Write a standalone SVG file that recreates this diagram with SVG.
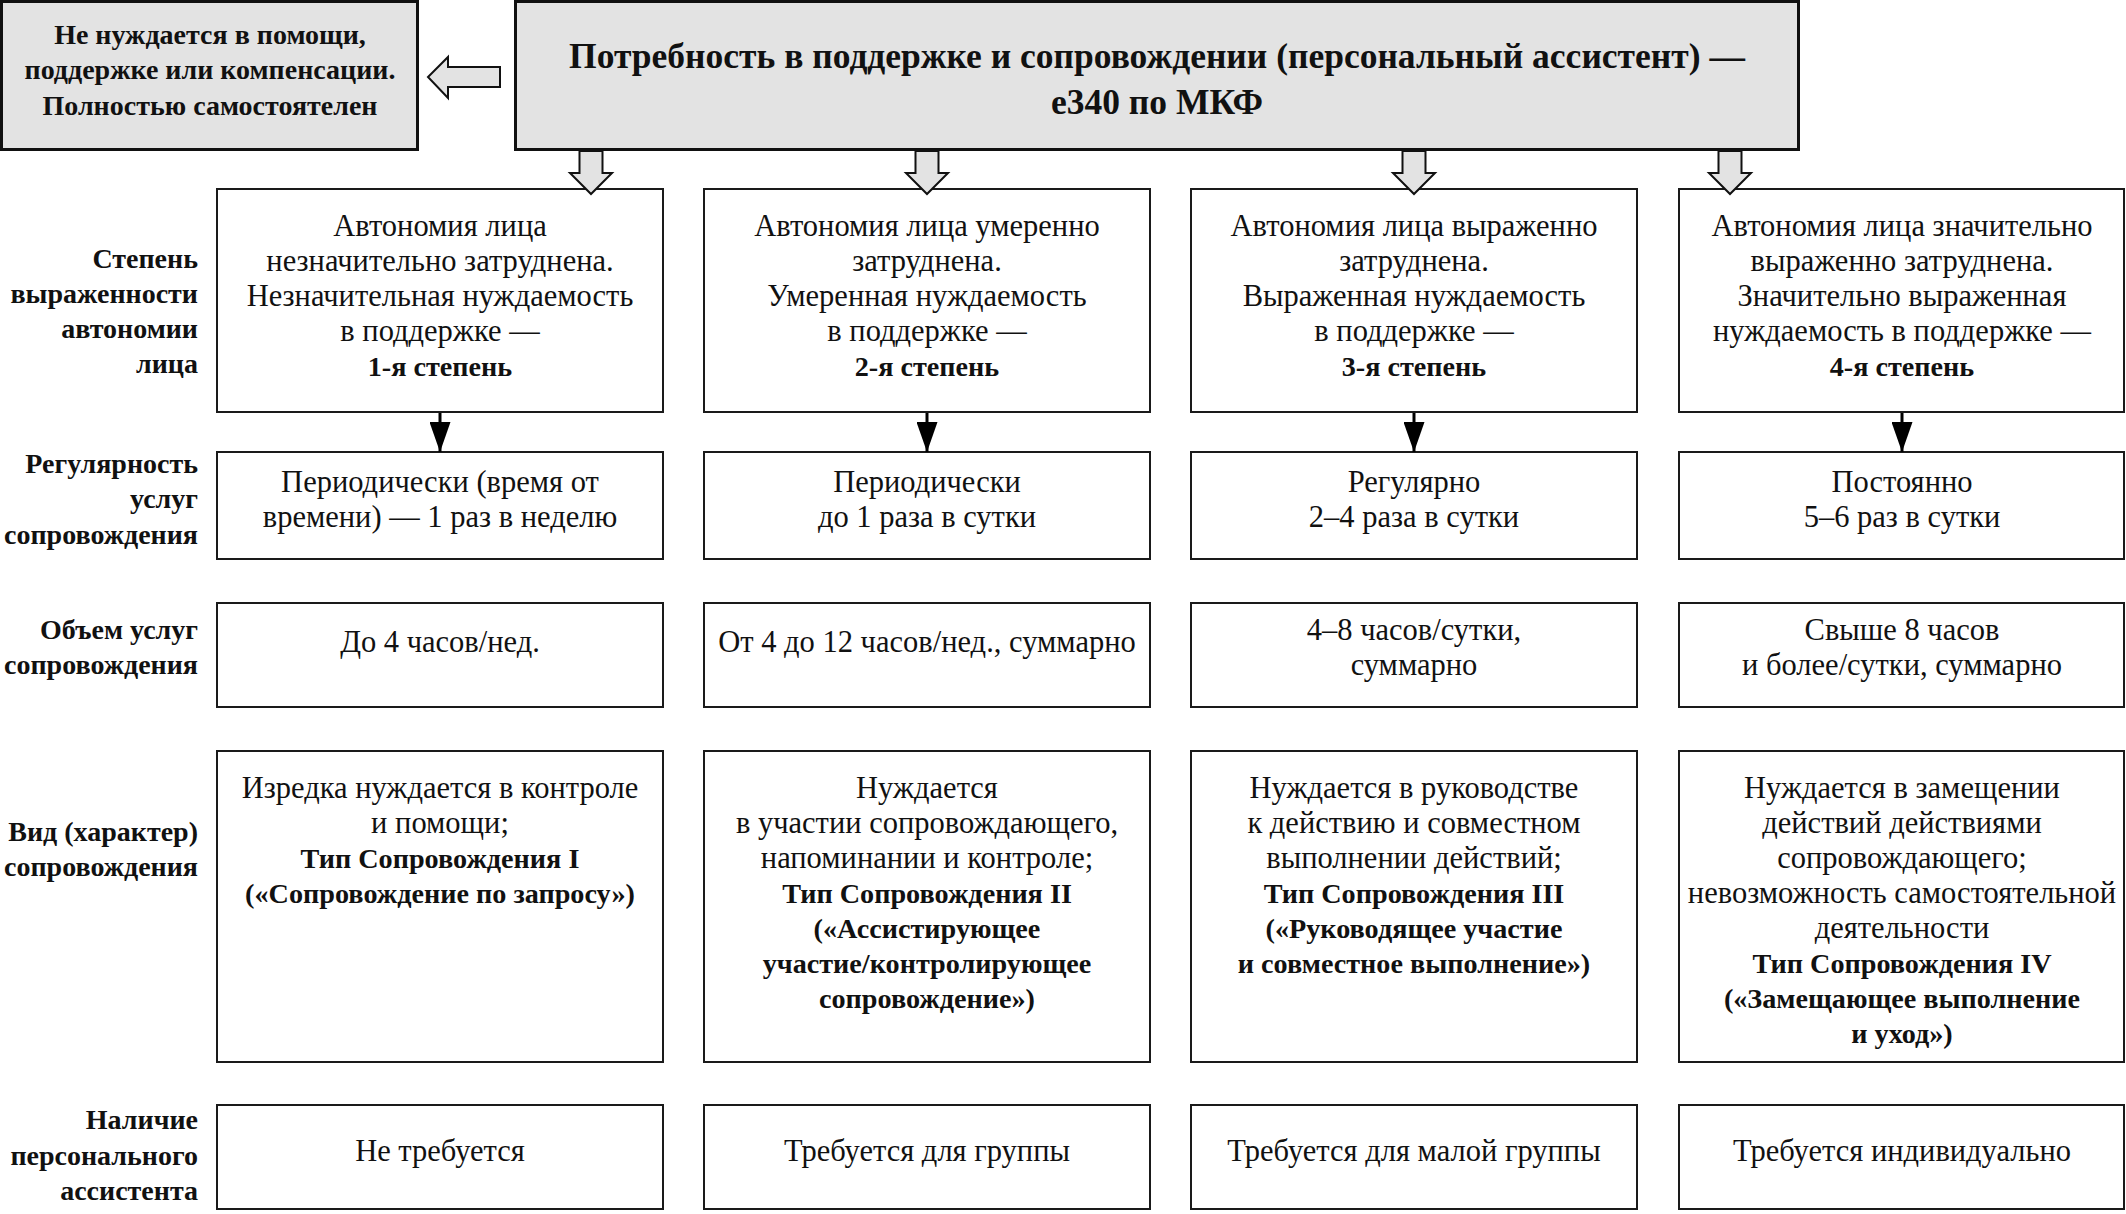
<svg xmlns="http://www.w3.org/2000/svg" width="2126" height="1214" viewBox="0 0 2126 1214">
<style>
.box{fill:#ffffff;stroke:#1a1a1a;stroke-width:2}
.gbox{fill:#e3e3e3;stroke:#111111;stroke-width:3}
.harr{fill:#e3e3e3;stroke:#111111;stroke-width:2;stroke-linejoin:miter}
.conn{stroke:#000000;stroke-width:3;fill:none}
text{font-family:"Liberation Serif","Times New Roman",serif;fill:#111111}
.t{font-size:30.5px;text-anchor:middle}
.b{font-weight:bold;font-size:28.2px}
.lab{font-size:28px;font-weight:bold;text-anchor:end}
.title{font-size:35.5px;font-weight:bold;text-anchor:middle}
.ltitle{font-size:28px;font-weight:bold;text-anchor:middle}
</style>
<defs>
<marker id="ah" viewBox="0 0 30 21" refX="30" refY="10.5" markerUnits="userSpaceOnUse" markerWidth="30" markerHeight="21" orient="auto">
<path d="M0,0 L30,10.5 L0,21 z" fill="#000000"/>
</marker>
</defs>
<rect x="0" y="0" width="2126" height="1214" fill="#ffffff"/>

<g id="labels">
<text class="lab" x="198" y="268">Степень</text>
<text class="lab" x="198" y="303">выраженности</text>
<text class="lab" x="198" y="338">автономии</text>
<text class="lab" x="198" y="373">лица</text>
<text class="lab" x="198" y="473">Регулярность</text>
<text class="lab" x="198" y="508">услуг</text>
<text class="lab" x="198" y="544">сопровождения</text>
<text class="lab" x="198" y="639">Объем услуг</text>
<text class="lab" x="198" y="674">сопровождения</text>
<text class="lab" x="198" y="841">Вид (характер)</text>
<text class="lab" x="198" y="876">сопровождения</text>
<text class="lab" x="198" y="1129">Наличие</text>
<text class="lab" x="198" y="1165">персонального</text>
<text class="lab" x="198" y="1200">ассистента</text>
</g>

<g id="independent">
<rect class="gbox" x="1.5" y="1.5" width="416" height="148"/>
<text class="ltitle" x="210" y="44">Не нуждается в помощи,</text>
<text class="ltitle" x="210" y="79">поддержке или компенсации.</text>
<text class="ltitle" x="210" y="115">Полностью самостоятелен</text>
</g>

<g id="main">
<rect class="gbox" x="515.5" y="1.5" width="1283" height="148"/>
<text class="title" x="1157" y="68">Потребность в поддержке и сопровождении (персональный ассистент) —</text>
<text class="title" x="1157" y="114">е340 по МКФ</text>
</g>

<g id="deg1">
<rect class="box" x="217" y="189" width="446" height="223"/>
<text class="t" x="440" y="236">Автономия лица</text>
<text class="t" x="440" y="271">незначительно затруднена.</text>
<text class="t" x="440" y="306">Незначительная нуждаемость</text>
<text class="t" x="440" y="341">в поддержке —</text>
<text class="t b" x="440" y="376">1-я степень</text>
</g>
<g id="deg2">
<rect class="box" x="704" y="189" width="446" height="223"/>
<text class="t" x="927" y="236">Автономия лица умеренно</text>
<text class="t" x="927" y="271">затруднена.</text>
<text class="t" x="927" y="306">Умеренная нуждаемость</text>
<text class="t" x="927" y="341">в поддержке —</text>
<text class="t b" x="927" y="376">2-я степень</text>
</g>
<g id="deg3">
<rect class="box" x="1191" y="189" width="446" height="223"/>
<text class="t" x="1414" y="236">Автономия лица выраженно</text>
<text class="t" x="1414" y="271">затруднена.</text>
<text class="t" x="1414" y="306">Выраженная нуждаемость</text>
<text class="t" x="1414" y="341">в поддержке —</text>
<text class="t b" x="1414" y="376">3-я степень</text>
</g>
<g id="deg4">
<rect class="box" x="1679" y="189" width="445" height="223"/>
<text class="t" x="1902" y="236">Автономия лица значительно</text>
<text class="t" x="1902" y="271">выраженно затруднена.</text>
<text class="t" x="1902" y="306">Значительно выраженная</text>
<text class="t" x="1902" y="341">нуждаемость в поддержке —</text>
<text class="t b" x="1902" y="376">4-я степень</text>
</g>

<g id="reg1">
<rect class="box" x="217" y="452" width="446" height="107"/>
<text class="t" x="440" y="492">Периодически (время от</text>
<text class="t" x="440" y="527">времени) — 1 раз в неделю</text>
</g>
<g id="reg2">
<rect class="box" x="704" y="452" width="446" height="107"/>
<text class="t" x="927" y="492">Периодически</text>
<text class="t" x="927" y="527">до 1 раза в сутки</text>
</g>
<g id="reg3">
<rect class="box" x="1191" y="452" width="446" height="107"/>
<text class="t" x="1414" y="492">Регулярно</text>
<text class="t" x="1414" y="527">2–4 раза в сутки</text>
</g>
<g id="reg4">
<rect class="box" x="1679" y="452" width="445" height="107"/>
<text class="t" x="1902" y="492">Постоянно</text>
<text class="t" x="1902" y="527">5–6 раз в сутки</text>
</g>

<g id="vol1">
<rect class="box" x="217" y="603" width="446" height="104"/>
<text class="t" x="440" y="652">До 4 часов/нед.</text>
</g>
<g id="vol2">
<rect class="box" x="704" y="603" width="446" height="104"/>
<text class="t" x="927" y="652">От 4 до 12 часов/нед., суммарно</text>
</g>
<g id="vol3">
<rect class="box" x="1191" y="603" width="446" height="104"/>
<text class="t" x="1414" y="640">4–8 часов/сутки,</text>
<text class="t" x="1414" y="675">суммарно</text>
</g>
<g id="vol4">
<rect class="box" x="1679" y="603" width="445" height="104"/>
<text class="t" x="1902" y="640">Свыше 8 часов</text>
<text class="t" x="1902" y="675">и более/сутки, суммарно</text>
</g>

<g id="type1">
<rect class="box" x="217" y="751" width="446" height="311"/>
<text class="t" x="440" y="798">Изредка нуждается в контроле</text>
<text class="t" x="440" y="833">и помощи;</text>
<text class="t b" x="440" y="868">Тип Сопровождения I</text>
<text class="t b" x="440" y="903">(«Сопровождение по запросу»)</text>
</g>
<g id="type2">
<rect class="box" x="704" y="751" width="446" height="311"/>
<text class="t" x="927" y="798">Нуждается</text>
<text class="t" x="927" y="833">в участии сопровождающего,</text>
<text class="t" x="927" y="868">напоминании и контроле;</text>
<text class="t b" x="927" y="903">Тип Сопровождения II</text>
<text class="t b" x="927" y="938">(«Ассистирующее</text>
<text class="t b" x="927" y="973">участие/контролирующее</text>
<text class="t b" x="927" y="1008">сопровождение»)</text>
</g>
<g id="type3">
<rect class="box" x="1191" y="751" width="446" height="311"/>
<text class="t" x="1414" y="798">Нуждается в руководстве</text>
<text class="t" x="1414" y="833">к действию и совместном</text>
<text class="t" x="1414" y="868">выполнении действий;</text>
<text class="t b" x="1414" y="903">Тип Сопровождения III</text>
<text class="t b" x="1414" y="938">(«Руководящее участие</text>
<text class="t b" x="1414" y="973">и совместное выполнение»)</text>
</g>
<g id="type4">
<rect class="box" x="1679" y="751" width="445" height="311"/>
<text class="t" x="1902" y="798">Нуждается в замещении</text>
<text class="t" x="1902" y="833">действий действиями</text>
<text class="t" x="1902" y="868">сопровождающего;</text>
<text class="t" x="1902" y="903">невозможность самостоятельной</text>
<text class="t" x="1902" y="938">деятельности</text>
<text class="t b" x="1902" y="973">Тип Сопровождения IV</text>
<text class="t b" x="1902" y="1008">(«Замещающее выполнение</text>
<text class="t b" x="1902" y="1043">и уход»)</text>
</g>

<g id="asst1">
<rect class="box" x="217" y="1105" width="446" height="104"/>
<text class="t" x="440" y="1161">Не требуется</text>
</g>
<g id="asst2">
<rect class="box" x="704" y="1105" width="446" height="104"/>
<text class="t" x="927" y="1161">Требуется для группы</text>
</g>
<g id="asst3">
<rect class="box" x="1191" y="1105" width="446" height="104"/>
<text class="t" x="1414" y="1161">Требуется для малой группы</text>
</g>
<g id="asst4">
<rect class="box" x="1679" y="1105" width="445" height="104"/>
<text class="t" x="1902" y="1161">Требуется индивидуально</text>
</g>

<g id="connectors">
<polygon class="harr" points="500,67 448,67 448,57 428,77 448,98 448,87 500,87"/>
<polygon class="harr" points="579.5,151 602.5,151 602.5,173 612,173 591,194 570,173 579.5,173"/>
<polygon class="harr" points="915.5,151 938.5,151 938.5,173 948,173 927,194 906,173 915.5,173"/>
<polygon class="harr" points="1402.5,151 1425.5,151 1425.5,173 1435,173 1414,194 1393,173 1402.5,173"/>
<polygon class="harr" points="1718.5,151 1741.5,151 1741.5,173 1751,173 1730,194 1709,173 1718.5,173"/>
<line class="conn" x1="440" y1="413" x2="440" y2="452" marker-end="url(#ah)"/>
<line class="conn" x1="927" y1="413" x2="927" y2="452" marker-end="url(#ah)"/>
<line class="conn" x1="1414" y1="413" x2="1414" y2="452" marker-end="url(#ah)"/>
<line class="conn" x1="1902" y1="413" x2="1902" y2="452" marker-end="url(#ah)"/>
</g>
</svg>
